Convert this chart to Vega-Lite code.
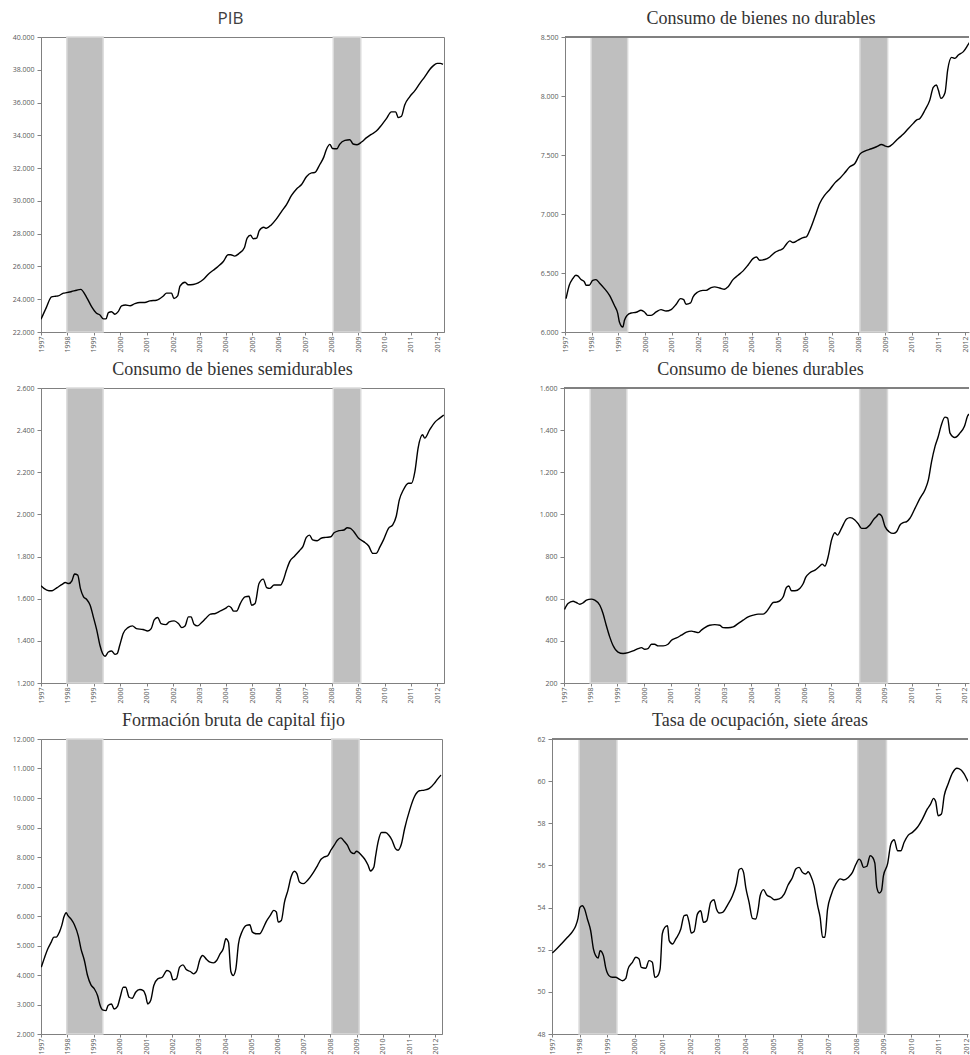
{
"$schema": "https://vega.github.io/schema/vega-lite/v6.json",
"background": "white",
"padding": {"left": 11, "top": 9, "right": 0, "bottom": 0},
"config": {
 "locale": {"number": {"decimal": ",", "thousands": ".", "grouping": [3], "currency": ["$", ""]}},
 "view": {"stroke": "#808080", "strokeWidth": 1},
 "axis": {"domainColor": "#808080", "tickColor": "#808080", "tickSize": 4, "labelFont": "Open Sans, Liberation Sans, sans-serif", "labelFontSize": 7, "labelColor": "#595959", "grid": false, "labelPadding": 3},
 "axisX": {"tickSize": 3, "labelPadding": 1},
 "title": {"frame": "group", "offset": 5, "fontWeight": "normal", "anchor": "middle"}
},
"datasets": {
 "bands": [{"t": 1997.98, "t2": 1999.35}, {"t": 2008.06, "t2": 2009.1}],
 "pib": [{"t":1997.0,"v":22774},{"t":1997.2,"v":23489},{"t":1997.4,"v":24142},{"t":1997.55,"v":24180},{"t":1997.65,"v":24200},{"t":1997.85,"v":24370},{"t":1997.97,"v":24400},{"t":1998.16,"v":24470},{"t":1998.35,"v":24550},{"t":1998.5,"v":24600},{"t":1998.73,"v":24100},{"t":1998.92,"v":23530},{"t":1999.1,"v":23140},{"t":1999.23,"v":23040},{"t":1999.36,"v":22800},{"t":1999.46,"v":22800},{"t":1999.55,"v":23180},{"t":1999.67,"v":23240},{"t":1999.8,"v":23080},{"t":1999.92,"v":23240},{"t":2000.05,"v":23600},{"t":2000.2,"v":23650},{"t":2000.37,"v":23600},{"t":2000.55,"v":23730},{"t":2000.74,"v":23800},{"t":2000.93,"v":23800},{"t":2001.12,"v":23900},{"t":2001.37,"v":23940},{"t":2001.63,"v":24200},{"t":2001.75,"v":24370},{"t":2001.94,"v":24370},{"t":2002.03,"v":24040},{"t":2002.17,"v":24200},{"t":2002.26,"v":24800},{"t":2002.45,"v":25040},{"t":2002.57,"v":24880},{"t":2002.76,"v":24900},{"t":2002.95,"v":25000},{"t":2003.14,"v":25200},{"t":2003.33,"v":25530},{"t":2003.52,"v":25770},{"t":2003.7,"v":26000},{"t":2003.9,"v":26300},{"t":2004.08,"v":26710},{"t":2004.18,"v":26710},{"t":2004.33,"v":26630},{"t":2004.5,"v":26800},{"t":2004.7,"v":27160},{"t":2004.8,"v":27730},{"t":2004.93,"v":27900},{"t":2005.03,"v":27690},{"t":2005.16,"v":27730},{"t":2005.26,"v":28180},{"t":2005.43,"v":28390},{"t":2005.53,"v":28330},{"t":2005.72,"v":28550},{"t":2005.91,"v":28900},{"t":2006.1,"v":29350},{"t":2006.29,"v":29770},{"t":2006.48,"v":30330},{"t":2006.67,"v":30730},{"t":2006.86,"v":31000},{"t":2007.05,"v":31490},{"t":2007.24,"v":31710},{"t":2007.36,"v":31730},{"t":2007.55,"v":32220},{"t":2007.7,"v":32670},{"t":2007.8,"v":33140},{"t":2007.93,"v":33450},{"t":2008.03,"v":33200},{"t":2008.2,"v":33180},{"t":2008.3,"v":33450},{"t":2008.5,"v":33690},{"t":2008.69,"v":33730},{"t":2008.81,"v":33470},{"t":2008.96,"v":33430},{"t":2009.13,"v":33590},{"t":2009.32,"v":33860},{"t":2009.5,"v":34060},{"t":2009.69,"v":34260},{"t":2009.88,"v":34610},{"t":2010.07,"v":35020},{"t":2010.26,"v":35430},{"t":2010.42,"v":35430},{"t":2010.52,"v":35080},{"t":2010.64,"v":35160},{"t":2010.76,"v":35840},{"t":2010.95,"v":36350},{"t":2011.14,"v":36710},{"t":2011.33,"v":37160},{"t":2011.52,"v":37570},{"t":2011.71,"v":38020},{"t":2011.84,"v":38240},{"t":2011.99,"v":38390},{"t":2012.11,"v":38390},{"t":2012.21,"v":38330}],
 "nd": [{"t":1997.04,"v":6283},{"t":1997.16,"v":6396},{"t":1997.29,"v":6452},{"t":1997.41,"v":6481},{"t":1997.48,"v":6475},{"t":1997.6,"v":6444},{"t":1997.73,"v":6424},{"t":1997.79,"v":6396},{"t":1997.91,"v":6396},{"t":1998.04,"v":6438},{"t":1998.16,"v":6444},{"t":1998.29,"v":6416},{"t":1998.48,"v":6368},{"t":1998.67,"v":6311},{"t":1998.85,"v":6226},{"t":1998.98,"v":6156},{"t":1999.04,"v":6085},{"t":1999.17,"v":6042},{"t":1999.23,"v":6099},{"t":1999.33,"v":6141},{"t":1999.48,"v":6161},{"t":1999.67,"v":6167},{"t":1999.85,"v":6184},{"t":1999.98,"v":6170},{"t":2000.1,"v":6141},{"t":2000.23,"v":6141},{"t":2000.42,"v":6170},{"t":2000.6,"v":6190},{"t":2000.79,"v":6178},{"t":2000.98,"v":6190},{"t":2001.17,"v":6235},{"t":2001.33,"v":6283},{"t":2001.45,"v":6274},{"t":2001.54,"v":6235},{"t":2001.71,"v":6246},{"t":2001.8,"v":6297},{"t":2001.98,"v":6339},{"t":2002.17,"v":6353},{"t":2002.29,"v":6353},{"t":2002.48,"v":6376},{"t":2002.61,"v":6382},{"t":2002.8,"v":6373},{"t":2002.98,"v":6362},{"t":2003.11,"v":6382},{"t":2003.3,"v":6444},{"t":2003.49,"v":6481},{"t":2003.68,"v":6518},{"t":2003.86,"v":6566},{"t":2004.05,"v":6622},{"t":2004.18,"v":6636},{"t":2004.3,"v":6608},{"t":2004.49,"v":6614},{"t":2004.68,"v":6636},{"t":2004.86,"v":6673},{"t":2005.05,"v":6693},{"t":2005.18,"v":6707},{"t":2005.3,"v":6744},{"t":2005.43,"v":6772},{"t":2005.55,"v":6758},{"t":2005.74,"v":6778},{"t":2005.93,"v":6800},{"t":2006.05,"v":6806},{"t":2006.18,"v":6863},{"t":2006.37,"v":6976},{"t":2006.55,"v":7089},{"t":2006.74,"v":7160},{"t":2006.93,"v":7208},{"t":2007.12,"v":7264},{"t":2007.3,"v":7301},{"t":2007.49,"v":7349},{"t":2007.68,"v":7400},{"t":2007.87,"v":7428},{"t":2008.06,"v":7507},{"t":2008.24,"v":7533},{"t":2008.49,"v":7553},{"t":2008.68,"v":7570},{"t":2008.87,"v":7589},{"t":2008.99,"v":7578},{"t":2009.12,"v":7570},{"t":2009.31,"v":7598},{"t":2009.5,"v":7640},{"t":2009.69,"v":7677},{"t":2009.87,"v":7722},{"t":2010.06,"v":7768},{"t":2010.18,"v":7796},{"t":2010.31,"v":7810},{"t":2010.5,"v":7881},{"t":2010.68,"v":7965},{"t":2010.81,"v":8073},{"t":2010.93,"v":8093},{"t":2011.0,"v":8050},{"t":2011.1,"v":7980},{"t":2011.25,"v":8028},{"t":2011.35,"v":8220},{"t":2011.5,"v":8327},{"t":2011.62,"v":8319},{"t":2011.75,"v":8347},{"t":2011.94,"v":8376},{"t":2012.13,"v":8440},{"t":2012.25,"v":8480}],
 "sd": [{"t":1997.0,"v":1661},{"t":1997.11,"v":1649},{"t":1997.3,"v":1638},{"t":1997.42,"v":1638},{"t":1997.61,"v":1653},{"t":1997.8,"v":1668},{"t":1997.92,"v":1677},{"t":1998.05,"v":1672},{"t":1998.17,"v":1685},{"t":1998.27,"v":1717},{"t":1998.39,"v":1712},{"t":1998.49,"v":1649},{"t":1998.61,"v":1609},{"t":1998.73,"v":1596},{"t":1998.86,"v":1569},{"t":1998.98,"v":1514},{"t":1999.11,"v":1451},{"t":1999.23,"v":1379},{"t":1999.33,"v":1340},{"t":1999.42,"v":1327},{"t":1999.55,"v":1347},{"t":1999.67,"v":1352},{"t":1999.8,"v":1336},{"t":1999.88,"v":1339},{"t":1999.98,"v":1379},{"t":2000.11,"v":1435},{"t":2000.29,"v":1463},{"t":2000.46,"v":1471},{"t":2000.61,"v":1458},{"t":2000.86,"v":1454},{"t":2001.04,"v":1447},{"t":2001.17,"v":1458},{"t":2001.29,"v":1501},{"t":2001.42,"v":1511},{"t":2001.54,"v":1482},{"t":2001.73,"v":1477},{"t":2001.85,"v":1490},{"t":2002.04,"v":1495},{"t":2002.2,"v":1482},{"t":2002.33,"v":1463},{"t":2002.45,"v":1470},{"t":2002.58,"v":1514},{"t":2002.68,"v":1514},{"t":2002.79,"v":1479},{"t":2002.92,"v":1471},{"t":2003.1,"v":1490},{"t":2003.23,"v":1506},{"t":2003.41,"v":1527},{"t":2003.6,"v":1530},{"t":2003.79,"v":1542},{"t":2003.98,"v":1554},{"t":2004.1,"v":1565},{"t":2004.2,"v":1557},{"t":2004.29,"v":1541},{"t":2004.41,"v":1542},{"t":2004.54,"v":1577},{"t":2004.72,"v":1609},{"t":2004.87,"v":1612},{"t":2004.97,"v":1569},{"t":2005.1,"v":1577},{"t":2005.25,"v":1672},{"t":2005.41,"v":1693},{"t":2005.54,"v":1653},{"t":2005.66,"v":1649},{"t":2005.82,"v":1665},{"t":2005.97,"v":1665},{"t":2006.07,"v":1665},{"t":2006.16,"v":1685},{"t":2006.29,"v":1736},{"t":2006.41,"v":1776},{"t":2006.6,"v":1803},{"t":2006.78,"v":1828},{"t":2006.91,"v":1847},{"t":2007.04,"v":1891},{"t":2007.16,"v":1902},{"t":2007.28,"v":1879},{"t":2007.45,"v":1875},{"t":2007.6,"v":1887},{"t":2007.78,"v":1891},{"t":2007.97,"v":1894},{"t":2008.09,"v":1913},{"t":2008.28,"v":1923},{"t":2008.46,"v":1926},{"t":2008.59,"v":1937},{"t":2008.71,"v":1934},{"t":2008.84,"v":1918},{"t":2009.02,"v":1887},{"t":2009.21,"v":1871},{"t":2009.4,"v":1850},{"t":2009.56,"v":1815},{"t":2009.68,"v":1815},{"t":2009.83,"v":1847},{"t":2009.96,"v":1879},{"t":2010.15,"v":1934},{"t":2010.31,"v":1950},{"t":2010.44,"v":1990},{"t":2010.56,"v":2069},{"t":2010.71,"v":2116},{"t":2010.9,"v":2148},{"t":2011.02,"v":2148},{"t":2011.15,"v":2204},{"t":2011.27,"v":2315},{"t":2011.44,"v":2378},{"t":2011.52,"v":2362},{"t":2011.71,"v":2402},{"t":2011.9,"v":2437},{"t":2012.09,"v":2457},{"t":2012.24,"v":2472}],
 "du": [{"t":1997.02,"v":549},{"t":1997.15,"v":577},{"t":1997.34,"v":588},{"t":1997.46,"v":582},{"t":1997.59,"v":574},{"t":1997.71,"v":580},{"t":1997.84,"v":593},{"t":1998.02,"v":598},{"t":1998.15,"v":593},{"t":1998.34,"v":569},{"t":1998.46,"v":530},{"t":1998.58,"v":474},{"t":1998.71,"v":419},{"t":1998.83,"v":379},{"t":1999.02,"v":347},{"t":1999.21,"v":340},{"t":1999.4,"v":344},{"t":1999.58,"v":352},{"t":1999.77,"v":363},{"t":1999.9,"v":368},{"t":2000.02,"v":360},{"t":2000.14,"v":363},{"t":2000.27,"v":384},{"t":2000.39,"v":384},{"t":2000.52,"v":376},{"t":2000.71,"v":376},{"t":2000.89,"v":384},{"t":2001.02,"v":403},{"t":2001.21,"v":414},{"t":2001.39,"v":427},{"t":2001.58,"v":441},{"t":2001.77,"v":446},{"t":2001.89,"v":443},{"t":2002.02,"v":439},{"t":2002.14,"v":451},{"t":2002.27,"v":463},{"t":2002.45,"v":474},{"t":2002.64,"v":477},{"t":2002.83,"v":474},{"t":2002.95,"v":463},{"t":2003.14,"v":462},{"t":2003.33,"v":466},{"t":2003.51,"v":482},{"t":2003.7,"v":498},{"t":2003.89,"v":514},{"t":2004.08,"v":522},{"t":2004.26,"v":527},{"t":2004.45,"v":527},{"t":2004.57,"v":538},{"t":2004.7,"v":561},{"t":2004.82,"v":582},{"t":2004.95,"v":584},{"t":2005.07,"v":590},{"t":2005.2,"v":609},{"t":2005.32,"v":653},{"t":2005.41,"v":660},{"t":2005.51,"v":638},{"t":2005.64,"v":638},{"t":2005.82,"v":649},{"t":2005.95,"v":672},{"t":2006.04,"v":701},{"t":2006.2,"v":723},{"t":2006.39,"v":736},{"t":2006.57,"v":755},{"t":2006.66,"v":764},{"t":2006.76,"v":755},{"t":2006.88,"v":799},{"t":2007.01,"v":879},{"t":2007.13,"v":913},{"t":2007.23,"v":902},{"t":2007.38,"v":934},{"t":2007.57,"v":978},{"t":2007.7,"v":985},{"t":2007.88,"v":974},{"t":2008.01,"v":955},{"t":2008.13,"v":934},{"t":2008.26,"v":934},{"t":2008.44,"v":950},{"t":2008.57,"v":974},{"t":2008.69,"v":990},{"t":2008.78,"v":1002},{"t":2008.88,"v":993},{"t":2009.01,"v":942},{"t":2009.16,"v":918},{"t":2009.32,"v":910},{"t":2009.44,"v":918},{"t":2009.57,"v":950},{"t":2009.69,"v":961},{"t":2009.82,"v":966},{"t":2009.94,"v":982},{"t":2010.13,"v":1029},{"t":2010.32,"v":1077},{"t":2010.5,"v":1116},{"t":2010.63,"v":1164},{"t":2010.75,"v":1251},{"t":2010.88,"v":1323},{"t":2011.0,"v":1370},{"t":2011.1,"v":1418},{"t":2011.25,"v":1462},{"t":2011.35,"v":1457},{"t":2011.44,"v":1386},{"t":2011.62,"v":1365},{"t":2011.81,"v":1386},{"t":2011.98,"v":1418},{"t":2012.1,"v":1468},{"t":2012.19,"v":1481},{"t":2012.25,"v":1500}],
 "fb": [{"t":1997.01,"v":4265},{"t":1997.14,"v":4605},{"t":1997.26,"v":4888},{"t":1997.39,"v":5114},{"t":1997.49,"v":5284},{"t":1997.58,"v":5284},{"t":1997.7,"v":5454},{"t":1997.79,"v":5681},{"t":1997.87,"v":5964},{"t":1997.96,"v":6111},{"t":1998.02,"v":6020},{"t":1998.15,"v":5885},{"t":1998.27,"v":5703},{"t":1998.42,"v":5318},{"t":1998.52,"v":4888},{"t":1998.65,"v":4492},{"t":1998.77,"v":3982},{"t":1998.9,"v":3665},{"t":1999.03,"v":3529},{"t":1999.15,"v":3303},{"t":1999.25,"v":2963},{"t":1999.34,"v":2815},{"t":1999.47,"v":2793},{"t":1999.55,"v":2963},{"t":1999.68,"v":3019},{"t":1999.78,"v":2849},{"t":1999.91,"v":2940},{"t":2000.01,"v":3246},{"t":2000.13,"v":3586},{"t":2000.22,"v":3586},{"t":2000.35,"v":3246},{"t":2000.47,"v":3212},{"t":2000.6,"v":3416},{"t":2000.76,"v":3506},{"t":2000.89,"v":3472},{"t":2000.98,"v":3303},{"t":2001.06,"v":3019},{"t":2001.17,"v":3133},{"t":2001.29,"v":3642},{"t":2001.44,"v":3869},{"t":2001.61,"v":3925},{"t":2001.79,"v":4152},{"t":2001.92,"v":4095},{"t":2002.02,"v":3835},{"t":2002.15,"v":3869},{"t":2002.27,"v":4265},{"t":2002.4,"v":4344},{"t":2002.52,"v":4186},{"t":2002.68,"v":4118},{"t":2002.8,"v":4039},{"t":2002.93,"v":4152},{"t":2003.03,"v":4492},{"t":2003.15,"v":4661},{"t":2003.3,"v":4526},{"t":2003.43,"v":4435},{"t":2003.56,"v":4412},{"t":2003.68,"v":4492},{"t":2003.81,"v":4718},{"t":2003.93,"v":4888},{"t":2004.03,"v":5228},{"t":2004.13,"v":5114},{"t":2004.22,"v":4118},{"t":2004.31,"v":3982},{"t":2004.41,"v":4209},{"t":2004.51,"v":5058},{"t":2004.64,"v":5454},{"t":2004.81,"v":5681},{"t":2004.94,"v":5703},{"t":2005.04,"v":5454},{"t":2005.19,"v":5398},{"t":2005.32,"v":5398},{"t":2005.44,"v":5568},{"t":2005.57,"v":5817},{"t":2005.72,"v":6020},{"t":2005.85,"v":6190},{"t":2005.95,"v":6134},{"t":2006.02,"v":5794},{"t":2006.14,"v":5851},{"t":2006.26,"v":6473},{"t":2006.39,"v":6870},{"t":2006.51,"v":7323},{"t":2006.64,"v":7515},{"t":2006.73,"v":7436},{"t":2006.83,"v":7153},{"t":2006.98,"v":7096},{"t":2007.14,"v":7210},{"t":2007.33,"v":7436},{"t":2007.52,"v":7719},{"t":2007.65,"v":7923},{"t":2007.77,"v":8002},{"t":2007.9,"v":8036},{"t":2008.02,"v":8229},{"t":2008.15,"v":8399},{"t":2008.27,"v":8569},{"t":2008.4,"v":8648},{"t":2008.53,"v":8535},{"t":2008.65,"v":8399},{"t":2008.78,"v":8172},{"t":2008.91,"v":8116},{"t":2008.99,"v":8195},{"t":2009.09,"v":8150},{"t":2009.22,"v":8025},{"t":2009.34,"v":7889},{"t":2009.44,"v":7719},{"t":2009.53,"v":7527},{"t":2009.66,"v":7663},{"t":2009.72,"v":8002},{"t":2009.82,"v":8512},{"t":2009.95,"v":8829},{"t":2010.1,"v":8829},{"t":2010.23,"v":8738},{"t":2010.35,"v":8569},{"t":2010.48,"v":8285},{"t":2010.58,"v":8229},{"t":2010.7,"v":8421},{"t":2010.83,"v":8965},{"t":2011.02,"v":9588},{"t":2011.2,"v":10041},{"t":2011.39,"v":10245},{"t":2011.58,"v":10267},{"t":2011.77,"v":10324},{"t":2011.96,"v":10494},{"t":2012.08,"v":10641},{"t":2012.21,"v":10777}],
 "to": [{"t":1997.01,"v":51.84},{"t":1997.19,"v":52.07},{"t":1997.37,"v":52.32},{"t":1997.56,"v":52.59},{"t":1997.74,"v":52.86},{"t":1997.86,"v":53.14},{"t":1997.94,"v":53.49},{"t":1998.01,"v":54.01},{"t":1998.1,"v":54.09},{"t":1998.18,"v":53.93},{"t":1998.28,"v":53.46},{"t":1998.4,"v":52.9},{"t":1998.5,"v":52.03},{"t":1998.58,"v":51.72},{"t":1998.67,"v":51.61},{"t":1998.74,"v":51.95},{"t":1998.86,"v":51.72},{"t":1998.94,"v":51.16},{"t":1999.06,"v":50.77},{"t":1999.18,"v":50.69},{"t":1999.3,"v":50.69},{"t":1999.43,"v":50.61},{"t":1999.55,"v":50.53},{"t":1999.67,"v":50.64},{"t":1999.75,"v":51.08},{"t":1999.91,"v":51.4},{"t":2000.03,"v":51.64},{"t":2000.15,"v":51.56},{"t":2000.23,"v":51.16},{"t":2000.39,"v":51.12},{"t":2000.51,"v":51.48},{"t":2000.63,"v":51.4},{"t":2000.72,"v":50.69},{"t":2000.81,"v":50.74},{"t":2000.91,"v":51.08},{"t":2000.99,"v":52.75},{"t":2001.08,"v":53.06},{"t":2001.18,"v":53.14},{"t":2001.24,"v":52.43},{"t":2001.36,"v":52.27},{"t":2001.48,"v":52.51},{"t":2001.66,"v":52.98},{"t":2001.78,"v":53.62},{"t":2001.88,"v":53.65},{"t":2001.96,"v":53.3},{"t":2002.04,"v":52.79},{"t":2002.14,"v":52.86},{"t":2002.26,"v":53.69},{"t":2002.38,"v":53.85},{"t":2002.48,"v":53.3},{"t":2002.6,"v":53.38},{"t":2002.74,"v":54.25},{"t":2002.86,"v":54.37},{"t":2002.95,"v":53.93},{"t":2003.05,"v":53.74},{"t":2003.17,"v":53.77},{"t":2003.35,"v":54.12},{"t":2003.53,"v":54.56},{"t":2003.67,"v":55.12},{"t":2003.77,"v":55.8},{"t":2003.85,"v":55.86},{"t":2003.93,"v":55.67},{"t":2004.01,"v":54.96},{"t":2004.13,"v":54.25},{"t":2004.25,"v":53.49},{"t":2004.37,"v":53.46},{"t":2004.46,"v":53.93},{"t":2004.53,"v":54.56},{"t":2004.65,"v":54.85},{"t":2004.77,"v":54.6},{"t":2004.92,"v":54.49},{"t":2005.04,"v":54.37},{"t":2005.22,"v":54.41},{"t":2005.4,"v":54.64},{"t":2005.54,"v":55.07},{"t":2005.7,"v":55.43},{"t":2005.82,"v":55.83},{"t":2005.94,"v":55.91},{"t":2006.06,"v":55.67},{"t":2006.18,"v":55.59},{"t":2006.27,"v":55.7},{"t":2006.36,"v":55.51},{"t":2006.48,"v":55.04},{"t":2006.61,"v":54.09},{"t":2006.7,"v":53.54},{"t":2006.79,"v":52.59},{"t":2006.87,"v":52.59},{"t":2006.97,"v":53.93},{"t":2007.09,"v":54.56},{"t":2007.27,"v":55.12},{"t":2007.43,"v":55.36},{"t":2007.55,"v":55.31},{"t":2007.72,"v":55.43},{"t":2007.87,"v":55.67},{"t":2008.0,"v":56.07},{"t":2008.11,"v":56.3},{"t":2008.17,"v":56.23},{"t":2008.27,"v":55.91},{"t":2008.39,"v":55.96},{"t":2008.51,"v":56.46},{"t":2008.6,"v":56.38},{"t":2008.68,"v":56.11},{"t":2008.75,"v":54.96},{"t":2008.84,"v":54.69},{"t":2008.92,"v":54.8},{"t":2008.99,"v":55.51},{"t":2009.14,"v":56.07},{"t":2009.26,"v":57.02},{"t":2009.38,"v":57.22},{"t":2009.5,"v":56.7},{"t":2009.62,"v":56.7},{"t":2009.74,"v":57.1},{"t":2009.89,"v":57.44},{"t":2010.04,"v":57.57},{"t":2010.22,"v":57.81},{"t":2010.4,"v":58.2},{"t":2010.58,"v":58.68},{"t":2010.7,"v":58.92},{"t":2010.8,"v":59.18},{"t":2010.88,"v":59.03},{"t":2010.97,"v":58.36},{"t":2011.09,"v":58.44},{"t":2011.19,"v":59.31},{"t":2011.33,"v":59.86},{"t":2011.49,"v":60.39},{"t":2011.65,"v":60.61},{"t":2011.79,"v":60.54},{"t":2011.91,"v":60.34},{"t":2012.04,"v":60.02},{"t":2012.1,"v":59.9},{"t":2012.25,"v":59.6}]
},
"spacing": 7,
"vconcat": [
 {"hconcat": [
  {"width": 403, "height": 295,
   "title": {"text": "PIB", "font": "Open Sans, Liberation Sans, sans-serif", "fontSize": 17, "color": "#404040", "dx": -12},
   "layer": [
    {"data": {"name": "bands"}, "mark": {"type": "rect", "color": "#bfbfbf", "stroke": "#dadada", "strokeWidth": 1.5},
     "encoding": {"x": {"field": "t", "type": "quantitative", "scale": {"domain": [1997, 2012.25], "nice": false, "zero": false}, "axis": {"values": [1997,1998,1999,2000,2001,2002,2003,2004,2005,2006,2007,2008,2009,2010,2011,2012], "format": "d", "labelAngle": -90, "labelOverlap": false, "title": null}}, "x2": {"field": "t2"}}},
    {"data": {"name": "pib"}, "mark": {"type": "line", "color": "black", "strokeWidth": 1.4, "interpolate": "monotone", "clip": true},
     "encoding": {"x": {"field": "t", "type": "quantitative", "scale": {"domain": [1997, 2012.25], "nice": false, "zero": false}, "axis": {"values": [1997,1998,1999,2000,2001,2002,2003,2004,2005,2006,2007,2008,2009,2010,2011,2012], "format": "d", "labelAngle": -90, "labelOverlap": false, "title": null}},
      "y": {"field": "v", "type": "quantitative", "scale": {"domain": [22000, 40000], "nice": false, "zero": false}, "axis": {"values": [22000,24000,26000,28000,30000,32000,34000,36000,38000,40000], "format": ",d", "title": null}}}}
   ]},
  {"width": 404, "height": 295, "view": {"stroke": null},
   "title": {"text": "Consumo de bienes no durables", "font": "Liberation Serif", "fontSize": 18, "color": "#333333", "dx": -6},
   "layer": [
    {"data": {"name": "bands"}, "mark": {"type": "rect", "color": "#bfbfbf", "stroke": "#dadada", "strokeWidth": 1.5},
     "encoding": {"x": {"field": "t", "type": "quantitative", "scale": {"domain": [1997, 2012.15], "nice": false, "zero": false}, "axis": {"values": [1997,1998,1999,2000,2001,2002,2003,2004,2005,2006,2007,2008,2009,2010,2011,2012], "format": "d", "labelAngle": -90, "labelOverlap": false, "title": null}}, "x2": {"field": "t2"}}},
    {"data": {"name": "nd"}, "mark": {"type": "rule", "color": "#808080"},
     "encoding": {"y": {"datum": 8500, "type": "quantitative", "scale": {"domain": [6000, 8500], "nice": false, "zero": false}, "axis": {"values": [6000,6500,7000,7500,8000,8500], "format": ",d", "title": null}}}},
    {"data": {"name": "nd"}, "mark": {"type": "line", "color": "black", "strokeWidth": 1.4, "interpolate": "monotone", "clip": true},
     "encoding": {"x": {"field": "t", "type": "quantitative", "scale": {"domain": [1997, 2012.15], "nice": false, "zero": false}, "axis": {"values": [1997,1998,1999,2000,2001,2002,2003,2004,2005,2006,2007,2008,2009,2010,2011,2012], "format": "d", "labelAngle": -90, "labelOverlap": false, "title": null}},
      "y": {"field": "v", "type": "quantitative", "scale": {"domain": [6000, 8500], "nice": false, "zero": false}, "axis": {"values": [6000,6500,7000,7500,8000,8500], "format": ",d", "title": null}}}}
   ]}
 ], "spacing": 121, "bounds": "flush"},
 {"hconcat": [
  {"width": 403, "height": 295,
   "title": {"text": "Consumo de bienes semidurables", "font": "Liberation Serif", "fontSize": 18, "color": "#333333", "dx": -10},
   "layer": [
    {"data": {"name": "bands"}, "mark": {"type": "rect", "color": "#bfbfbf", "stroke": "#dadada", "strokeWidth": 1.5},
     "encoding": {"x": {"field": "t", "type": "quantitative", "scale": {"domain": [1997, 2012.25], "nice": false, "zero": false}, "axis": {"values": [1997,1998,1999,2000,2001,2002,2003,2004,2005,2006,2007,2008,2009,2010,2011,2012], "format": "d", "labelAngle": -90, "labelOverlap": false, "title": null}}, "x2": {"field": "t2"}}},
    {"data": {"name": "sd"}, "mark": {"type": "line", "color": "black", "strokeWidth": 1.4, "interpolate": "monotone", "clip": true},
     "encoding": {"x": {"field": "t", "type": "quantitative", "scale": {"domain": [1997, 2012.25], "nice": false, "zero": false}, "axis": {"values": [1997,1998,1999,2000,2001,2002,2003,2004,2005,2006,2007,2008,2009,2010,2011,2012], "format": "d", "labelAngle": -90, "labelOverlap": false, "title": null}},
      "y": {"field": "v", "type": "quantitative", "scale": {"domain": [1200, 2600], "nice": false, "zero": false}, "axis": {"values": [1200,1400,1600,1800,2000,2200,2400,2600], "format": ",d", "title": null}}}}
   ]},
  {"width": 405, "height": 295, "view": {"stroke": null},
   "title": {"text": "Consumo de bienes durables", "font": "Liberation Serif", "fontSize": 18, "color": "#333333", "dx": -6},
   "layer": [
    {"data": {"name": "bands"}, "mark": {"type": "rect", "color": "#bfbfbf", "stroke": "#dadada", "strokeWidth": 1.5},
     "encoding": {"x": {"field": "t", "type": "quantitative", "scale": {"domain": [1997, 2012.15], "nice": false, "zero": false}, "axis": {"values": [1997,1998,1999,2000,2001,2002,2003,2004,2005,2006,2007,2008,2009,2010,2011,2012], "format": "d", "labelAngle": -90, "labelOverlap": false, "title": null}}, "x2": {"field": "t2"}}},
    {"data": {"name": "du"}, "mark": {"type": "rule", "color": "#808080"},
     "encoding": {"y": {"datum": 1600, "type": "quantitative", "scale": {"domain": [200, 1600], "nice": false, "zero": false}, "axis": {"values": [200,400,600,800,1000,1200,1400,1600], "format": ",d", "title": null}}}},
    {"data": {"name": "du"}, "mark": {"type": "line", "color": "black", "strokeWidth": 1.4, "interpolate": "monotone", "clip": true},
     "encoding": {"x": {"field": "t", "type": "quantitative", "scale": {"domain": [1997, 2012.15], "nice": false, "zero": false}, "axis": {"values": [1997,1998,1999,2000,2001,2002,2003,2004,2005,2006,2007,2008,2009,2010,2011,2012], "format": "d", "labelAngle": -90, "labelOverlap": false, "title": null}},
      "y": {"field": "v", "type": "quantitative", "scale": {"domain": [200, 1600], "nice": false, "zero": false}, "axis": {"values": [200,400,600,800,1000,1200,1400,1600], "format": ",d", "title": null}}}}
   ]}
 ], "spacing": 120, "bounds": "flush"},
 {"hconcat": [
  {"width": 401, "height": 295,
   "title": {"text": "Formación bruta de capital fijo", "font": "Liberation Serif", "fontSize": 18, "color": "#333333", "dx": -8},
   "layer": [
    {"data": {"name": "bands"}, "mark": {"type": "rect", "color": "#bfbfbf", "stroke": "#dadada", "strokeWidth": 1.5},
     "encoding": {"x": {"field": "t", "type": "quantitative", "scale": {"domain": [1997, 2012.25], "nice": false, "zero": false}, "axis": {"values": [1997,1998,1999,2000,2001,2002,2003,2004,2005,2006,2007,2008,2009,2010,2011,2012], "format": "d", "labelAngle": -90, "labelOverlap": false, "title": null}}, "x2": {"field": "t2"}}},
    {"data": {"name": "fb"}, "mark": {"type": "line", "color": "black", "strokeWidth": 1.4, "interpolate": "monotone", "clip": true},
     "encoding": {"x": {"field": "t", "type": "quantitative", "scale": {"domain": [1997, 2012.25], "nice": false, "zero": false}, "axis": {"values": [1997,1998,1999,2000,2001,2002,2003,2004,2005,2006,2007,2008,2009,2010,2011,2012], "format": "d", "labelAngle": -90, "labelOverlap": false, "title": null}},
      "y": {"field": "v", "type": "quantitative", "scale": {"domain": [2000, 12000], "nice": false, "zero": false}, "axis": {"values": [2000,3000,4000,5000,6000,7000,8000,9000,10000,11000,12000], "format": ",d", "title": null}}}}
   ]},
  {"width": 416, "height": 295, "view": {"stroke": null},
   "title": {"text": "Tasa de ocupación, siete áreas", "font": "Liberation Serif", "fontSize": 18, "color": "#333333", "dx": 0},
   "layer": [
    {"data": {"name": "bands"}, "mark": {"type": "rect", "color": "#bfbfbf", "stroke": "#dadada", "strokeWidth": 1.5},
     "encoding": {"x": {"field": "t", "type": "quantitative", "scale": {"domain": [1997, 2012.05], "nice": false, "zero": false}, "axis": {"values": [1997,1998,1999,2000,2001,2002,2003,2004,2005,2006,2007,2008,2009,2010,2011,2012], "format": "d", "labelAngle": -90, "labelOverlap": false, "title": null}}, "x2": {"field": "t2"}}},
    {"data": {"name": "to"}, "mark": {"type": "rule", "color": "#808080"},
     "encoding": {"y": {"datum": 62, "type": "quantitative", "scale": {"domain": [48, 62], "nice": false, "zero": false}, "axis": {"values": [48,50,52,54,56,58,60,62], "format": "d", "title": null}}}},
    {"data": {"name": "to"}, "mark": {"type": "line", "color": "black", "strokeWidth": 1.4, "interpolate": "monotone", "clip": true},
     "encoding": {"x": {"field": "t", "type": "quantitative", "scale": {"domain": [1997, 2012.05], "nice": false, "zero": false}, "axis": {"values": [1997,1998,1999,2000,2001,2002,2003,2004,2005,2006,2007,2008,2009,2010,2011,2012], "format": "d", "labelAngle": -90, "labelOverlap": false, "title": null}},
      "y": {"field": "v", "type": "quantitative", "scale": {"domain": [48, 62], "nice": false, "zero": false}, "axis": {"values": [48,50,52,54,56,58,60,62], "format": "d", "title": null}}}}
   ]}
 ], "spacing": 110, "bounds": "flush"}
]
}
